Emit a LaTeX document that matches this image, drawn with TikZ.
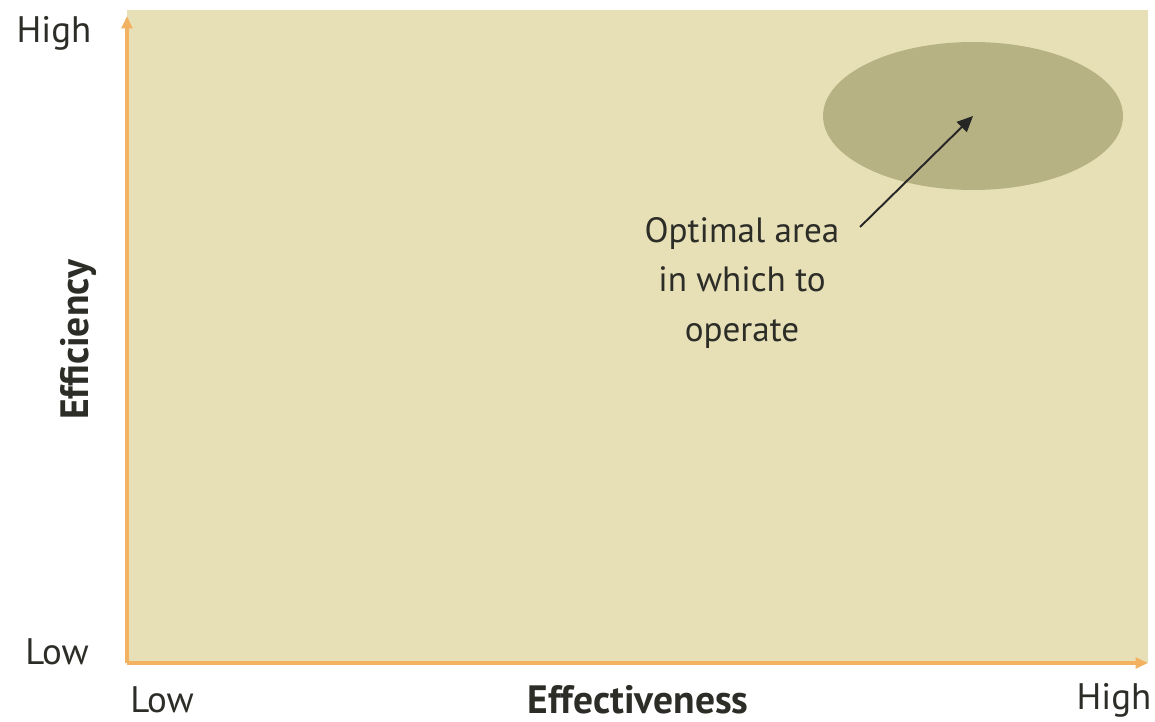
\documentclass[tikz,border=0pt]{standalone}
\usepackage{fontspec}
\setmainfont{PT Sans}
\usetikzlibrary{shapes.geometric,arrows.meta}
\definecolor{bgfill}{RGB}{231,224,183}
\definecolor{ellfill}{RGB}{183,178,131}
\definecolor{axiscol}{RGB}{242,178,98}
\definecolor{txtcol}{RGB}{45,45,40}
\tikzset{
  axis/.style={draw=axiscol, line width=1.8pt, -{Triangle[length=7pt,width=6pt]}},
  lbl/.style={text=txtcol, font=\fontsize{21}{25}\selectfont, inner sep=0pt},
  axtitle/.style={text=txtcol, font=\fontsize{22.5}{26}\selectfont\bfseries, inner sep=0pt},
  note/.style={text=txtcol, font=\fontsize{20}{28.3}\selectfont, align=center, inner sep=0pt},
  pointer/.style={draw=black!85, line width=1.1pt, -{Triangle[length=9pt,width=8pt]}}
}
\begin{document}
\begin{tikzpicture}[x=0.02cm,y=-0.02cm]
\useasboundingbox (0,0) rectangle (1155,722);
\fill[white] (0,0) rectangle (1155,722);
\fill[bgfill] (127,10) rectangle (1148,663);
\node[ellipse, fill=ellfill, minimum width=6cm, minimum height=2.96cm, inner sep=0pt] (opt) at (973,116) {};
\coordinate (origin) at (127,663);
\coordinate (ytip) at (127,16);
\coordinate (xtip) at (1148,663);
\draw[axis] (origin) -- (ytip);
\draw[axis] (origin) -- (xtip);
\node[lbl] (yhigh) at (54,33) {High};
\node[lbl] (ylow) at (57,652) {Low};
\node[lbl] (xlow) at (162,700) {Low};
\node[lbl] (xhigh) at (1114,700) {High};
\node[axtitle] (xtitle) at (638,700) {Effectiveness};
\node[axtitle, rotate=90] (ytitle) at (78,340) {Efficiency};
\node[note] (txt) at (742,283) {Optimal area\\in which to\\operate};
\coordinate (tail) at (860,227);
\draw[pointer] (tail) -- (opt.center);
\end{tikzpicture}
\end{document}
